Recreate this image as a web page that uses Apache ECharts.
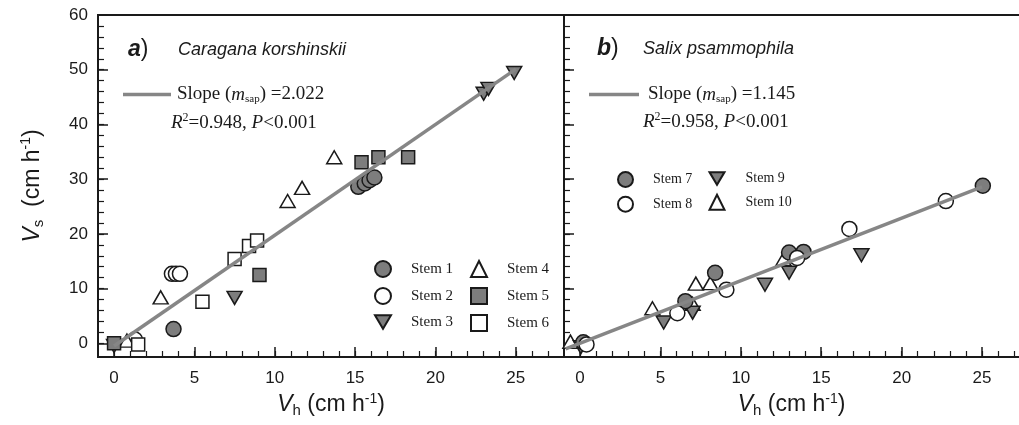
<!DOCTYPE html>
<html>
<head>
<meta charset="utf-8">
<title>Vs vs Vh</title>
<script src="https://cdn.jsdelivr.net/npm/echarts@6/dist/echarts.min.js"></script>
<style>
  html, body { margin: 0; padding: 0; background: #fff; }
  #chart { width: 1019px; height: 425px; }
</style>
</head>
<body>
<div id="chart"></div>
<script>
// panel a - Caragana korshinskii, [Vh, Vs]
const stem1 = [[3.7, 2.6], [15.2, 28.6], [15.6, 29.2], [15.9, 29.8], [16.2, 30.3]]
const stem2 = [[1.3, 0.7], [3.6, 12.7], [3.85, 12.7], [4.1, 12.7]]
const stem3 = [[0.0, -0.5], [7.5, 8.3], [23.0, 45.6], [23.3, 46.5], [24.9, 49.4]]
const stem4 = [[0.8, 0.5], [2.9, 8.4], [10.8, 26.0], [11.7, 28.4], [13.7, 34.0]]
const stem5 = [[0.0, 0.0], [9.05, 12.5], [15.4, 33.1], [16.45, 34.0], [18.3, 34.0]]
const stem6 = [[1.5, -0.2], [5.5, 7.6], [7.5, 15.4], [8.4, 17.8], [8.9, 18.8]]
const fitA = [[0, -0.5], [25, 50.1]]

// panel b - Salix psammophila
const stem7 = [[0.2, 0.2], [6.55, 7.7], [8.4, 12.9], [13.0, 16.6], [13.9, 16.7], [25.05, 28.8]]
const stem8 = [[0.4, -0.2], [6.05, 5.5], [9.1, 9.8], [13.5, 15.6], [16.75, 20.9], [22.75, 26.0]]
const stem9 = [[0.05, -0.7], [5.2, 3.8], [7.0, 5.6], [11.5, 10.7], [13.0, 12.9], [17.5, 16.1]]
const stem10 = [[-0.6, 0.3], [4.5, 6.4], [7.0, 7.2], [7.2, 10.9], [8.1, 11.0], [12.65, 15.4]]
const fitB = [[-0.9, -1.0], [25, 28.6]]

// ticks
const xMajor = [0, 5, 10, 15, 20, 25]
const xMinor = [0, 1, 2, 3, 4, 5, 6, 7, 8, 9, 10, 11, 12, 13, 14, 15, 16, 17, 18, 19, 20, 21, 22, 23, 24, 25, 26, 27]
const yMajor = [0, 10, 20, 30, 40, 50, 60]
const yMinor = [0, 2, 4, 6, 8, 10, 12, 14, 16, 18, 20, 22, 24, 26, 28, 30, 32, 34, 36, 38, 40, 42, 44, 46, 48, 50, 52, 54, 56, 58]

const SANS = 'Liberation Sans'
const SERIF = 'Liberation Serif'
const INK = '#1a1a1a'
const GREY = '#7d7d7d'
const LINE = '#868686'
const DOWN = 'path://M0,0 L20,0 L10,17 Z'

const axisRich = {
  v: { fontFamily: SANS, fontSize: 23, fontStyle: 'italic', color: INK },
  s: { fontFamily: SANS, fontSize: 15, color: INK, padding: [12, 0, 0, 0] },
  t: { fontFamily: SANS, fontSize: 23, color: INK },
  e: { fontFamily: SANS, fontSize: 14, color: INK, padding: [0, 0, 12, 0] }
}

const frame = { show: true, onZero: false, lineStyle: { color: INK, width: 2 } }

function xAxes (grid, max, line) {
  return [{
    type: 'value', gridIndex: grid, min: -1, max: max, position: 'bottom',
    axisLine: line ? frame : { show: false, onZero: false },
    splitLine: { show: false },
    axisTick: { inside: true, length: 10, customValues: xMajor, lineStyle: { color: INK, width: 1.5 } },
    axisLabel: { customValues: xMajor, fontFamily: SANS, fontSize: 17, color: INK, margin: 13 },
    name: '{v|V}{s|h}{t| (cm h}{e|-1}{t|)}',
    nameLocation: 'middle', nameGap: 32,
    nameTextStyle: { rich: axisRich }
  }, {
    type: 'value', gridIndex: grid, min: -1, max: max, position: 'bottom',
    axisLine: { show: false, onZero: false },
    splitLine: { show: false },
    axisTick: { inside: true, length: 6, customValues: xMinor, lineStyle: { color: INK, width: 1.2 } },
    axisLabel: { show: false }
  }]
}

function yAxes (grid, labels, line) {
  return [{
    type: 'value', gridIndex: grid, min: -2.5, max: 60, position: 'left',
    axisLine: line ? frame : { show: false, onZero: false },
    splitLine: { show: false },
    axisTick: { inside: true, length: 10, customValues: yMajor, lineStyle: { color: INK, width: 1.5 } },
    axisLabel: { show: labels, customValues: yMajor, fontFamily: SANS, fontSize: 17, color: INK, margin: 10 },
    name: labels ? '{v|V}{s|s}{t|  (cm h}{e|-1}{t|)}' : '',
    nameLocation: 'middle', nameGap: 52, nameRotate: 90,
    nameTextStyle: { rich: axisRich }
  }, {
    type: 'value', gridIndex: grid, min: -2.5, max: 60, position: 'left',
    axisLine: { show: false, onZero: false },
    splitLine: { show: false },
    axisTick: { inside: true, length: 6, customValues: yMinor, lineStyle: { color: INK, width: 1.2 } },
    axisLabel: { show: false }
  }]
}

function scatter (name, data, grid, symbol, filled) {
  const size = symbol === 'rect' ? 13 : (symbol === 'circle' ? 15 : [15, 13])
  return {
    name: name, type: 'scatter', data: data,
    xAxisIndex: grid * 2, yAxisIndex: grid * 2,
    symbol: symbol, symbolSize: size,
    itemStyle: { color: filled ? GREY : '#fff', borderColor: INK, borderWidth: 1.5, opacity: 1 },
    z: 3
  }
}

function fit (name, data, grid) {
  return {
    name: name, type: 'line', data: data,
    xAxisIndex: grid * 2, yAxisIndex: grid * 2,
    symbol: 'none', itemStyle: { color: LINE },
    lineStyle: { color: LINE, width: 3.5 }, z: 5
  }
}

const slopeRich = {
  t: { fontFamily: SERIF, fontSize: 19, color: INK },
  i: { fontFamily: SERIF, fontSize: 19, fontStyle: 'italic', color: INK },
  s: { fontFamily: SERIF, fontSize: 11, color: INK, padding: [10, 0, 0, 0] }
}

function stemLegend (names, left, top, size, gap, pad, fs) {
  return {
    data: names, orient: 'vertical', left: left, top: top,
    itemWidth: size, itemHeight: size, itemGap: gap,
    selectedMode: false,
    textStyle: { fontFamily: SERIF, fontSize: fs, color: INK, lineHeight: size, padding: [0, 0, 0, pad] }
  }
}

function fitLegend (name, left, width, text, pad) {
  return {
    data: [{ name: name, icon: 'rect' }], left: left, top: 80,
    itemWidth: width, itemHeight: 3.5, selectedMode: false,
    itemStyle: { color: LINE, borderWidth: 0 },
    formatter: () => text,
    textStyle: { rich: slopeRich, padding: [0, 0, 0, pad] }
  }
}

function rText (x, y, r, p) {
  return {
    type: 'text', x: x, y: y,
    style: {
      text: '{i|R}{e|2}{t|=' + r + ', }{i|P}{t|<' + p + '}', verticalAlign: 'middle',
      rich: {
        t: { fontFamily: SERIF, fontSize: 19, fill: INK },
        i: { fontFamily: SERIF, fontSize: 19, fontStyle: 'italic', fill: INK },
        e: { fontFamily: SERIF, fontSize: 12, fill: INK, padding: [0, 0, 10, 0] }
      }
    }
  }
}

function panelTag (x, y, letter, species) {
  return [{
    type: 'text', x: x, y: y,
    style: {
      text: '{b|' + letter + '}{p|)}', verticalAlign: 'middle',
      rich: {
        b: { fontFamily: SANS, fontSize: 23, fontWeight: 'bold', fontStyle: 'italic', fill: INK },
        p: { fontFamily: SANS, fontSize: 23, fill: INK }
      }
    }
  }, {
    type: 'text', x: x + (letter === 'a' ? 50 : 46), y: y,
    style: { text: species, font: 'italic 18px "Liberation Sans"', fill: INK, verticalAlign: 'middle' }
  }]
}

const chart = echarts.init(document.getElementById('chart'))

chart.setOption({
  animation: false,
  backgroundColor: '#fff',
  grid: [
    { left: 98, right: 455, top: 15, bottom: 68, show: true, borderColor: INK, borderWidth: 2 },
    { left: 564, right: 0, top: 15, bottom: 68, show: false }
  ],
  xAxis: [
    ...xAxes(0, 28, false),
    ...xAxes(1, 27.3, true),
    {
      type: 'value', gridIndex: 1, min: -1, max: 27.3, position: 'top',
      axisLine: frame, axisTick: { show: false }, axisLabel: { show: false }, splitLine: { show: false }
    }
  ],
  yAxis: [...yAxes(0, true, false), ...yAxes(1, false, true)],
  legend: [
    stemLegend(['Stem 1', 'Stem 2', 'Stem 3'], 369, 255, 16, 9, 15, 15),
    stemLegend(['Stem 4', 'Stem 5', 'Stem 6'], 465, 255, 16, 9, 15, 15),
    stemLegend(['Stem 7', 'Stem 8'], 612, 166, 15, 7.7, 15, 14),
    stemLegend(['Stem 9', 'Stem 10'], 703.5, 166, 15, 7.7, 16, 14),
    fitLegend('fitA', 118, 48, '{t|Slope (}{i|m}{s|sap}{t|) =2.022}', 1),
    fitLegend('fitB', 584, 50, '{t|Slope (}{i|m}{s|sap}{t|) =1.145}', 4)
  ],
  graphic: [
    ...panelTag(128, 50, 'a', 'Caragana korshinskii'),
    ...panelTag(597, 49, 'b', 'Salix psammophila'),
    rText(171, 123, '0.948', '0.001'),
    rText(643, 122, '0.958', '0.001')
  ],
  series: [
    scatter('Stem 2', stem2, 0, 'circle', false),
    scatter('Stem 4', stem4, 0, 'triangle', false),
    scatter('Stem 1', stem1, 0, 'circle', true),
    scatter('Stem 3', stem3, 0, DOWN, true),
    scatter('Stem 6', stem6, 0, 'rect', false),
    scatter('Stem 5', stem5, 0, 'rect', true),
    fit('fitA', fitA, 0),
    scatter('Stem 10', stem10, 1, 'triangle', false),
    scatter('Stem 9', stem9, 1, DOWN, true),
    scatter('Stem 7', stem7, 1, 'circle', true),
    scatter('Stem 8', stem8, 1, 'circle', false),
    fit('fitB', fitB, 1)
  ]
})
</script>
</body>
</html>
